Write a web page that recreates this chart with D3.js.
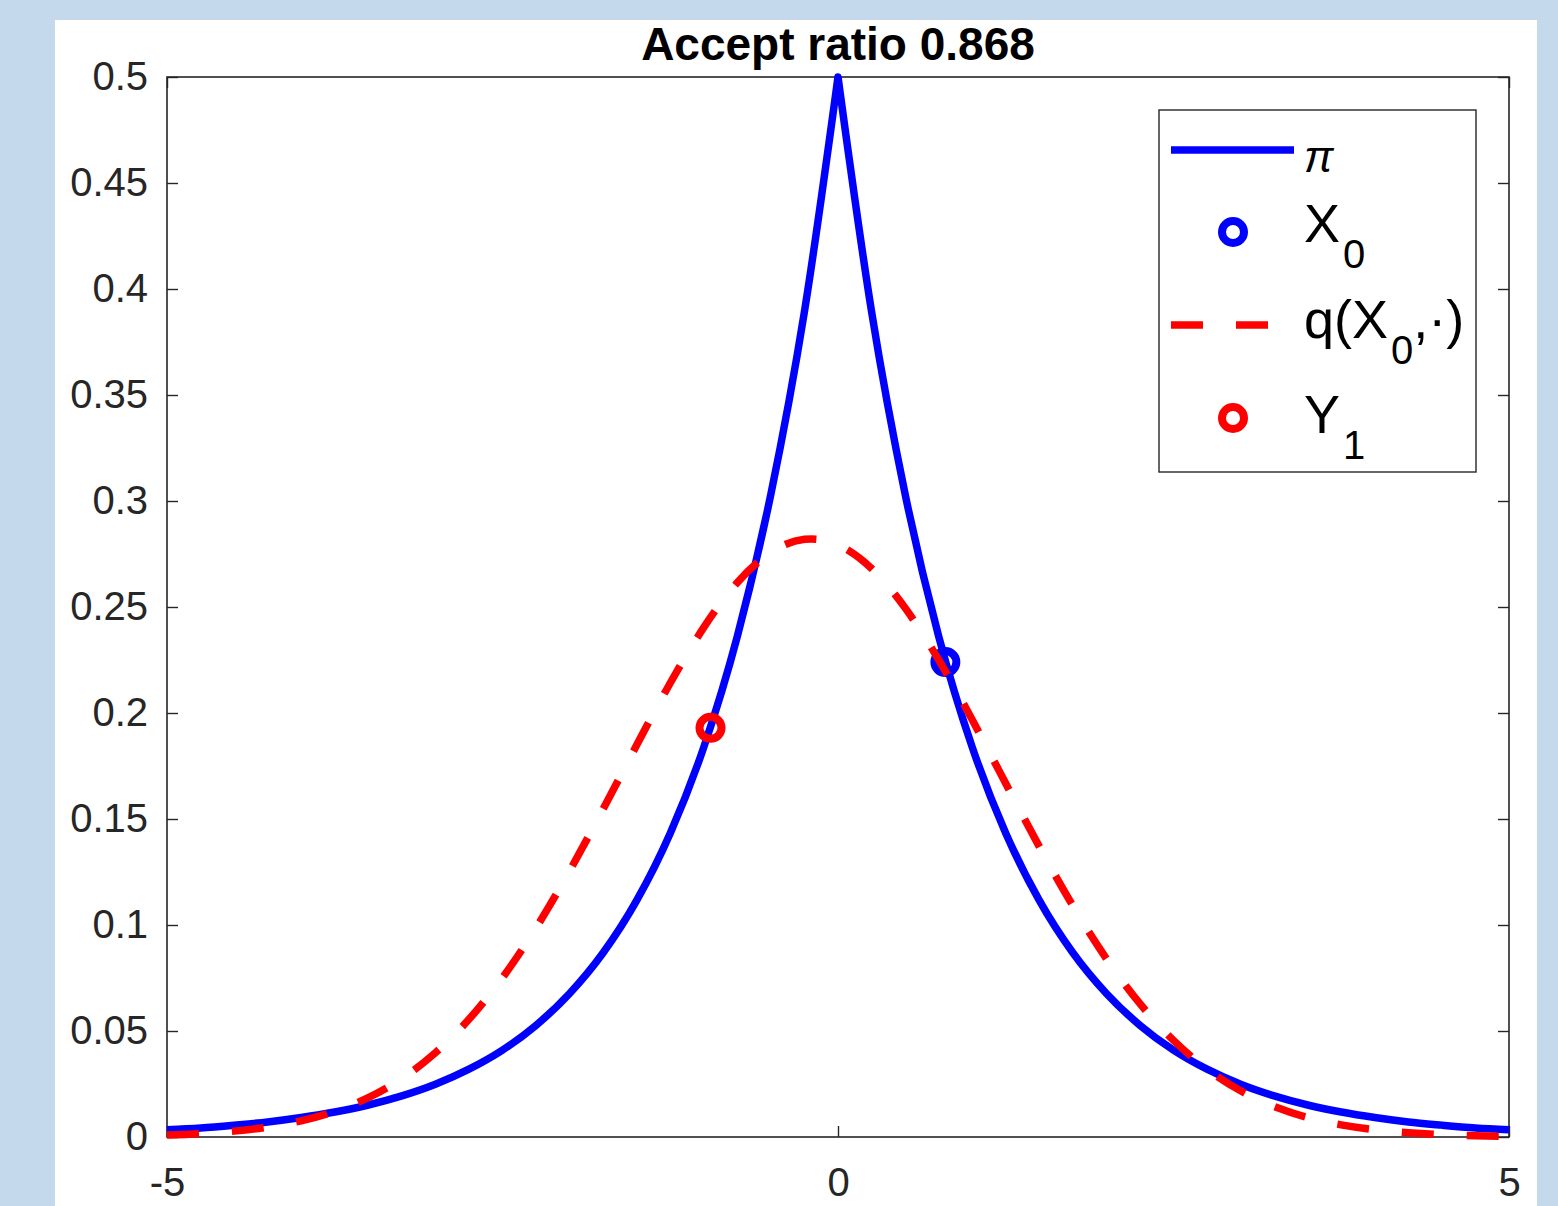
<!DOCTYPE html>
<html>
<head>
<meta charset="utf-8">
<script src="https://cdn.jsdelivr.net/npm/d3@7"></script>
<style>
  html, body { margin: 0; padding: 0; background: #c4d9ec; }
  svg { display: block; }
  text { font-family: "Liberation Sans", Arial, Helvetica, sans-serif; }
</style>
</head>
<body>
<svg id="chart" width="1558" height="1206"></svg>
<script>
// ---- data ----
const xGrid = [-5, -4.75, -4.5, -4.25, -4, -3.75, -3.5, -3.25, -3, -2.75, -2.5, -2.25, -2, -1.75, -1.5, -1.25, -1, -0.75, -0.5, -0.25,
  0, 0.25, 0.5, 0.75, 1, 1.25, 1.5, 1.75, 2, 2.25, 2.5, 2.75, 3, 3.25, 3.5, 3.75, 4, 4.25, 4.5, 4.75, 5];
const piValues = [0.0034, 0.0043, 0.0056, 0.0071, 0.0092, 0.0118, 0.0151, 0.0194, 0.0249, 0.0320, 0.0410, 0.0527, 0.0677, 0.0869, 0.1116, 0.1433, 0.1839, 0.2362, 0.3033, 0.3894,
  0.5, 0.3894, 0.3033, 0.2362, 0.1839, 0.1433, 0.1116, 0.0869, 0.0677, 0.0527, 0.0410, 0.0320, 0.0249, 0.0194, 0.0151, 0.0118, 0.0092, 0.0071, 0.0056, 0.0043, 0.0034];
const qValues = [0.00089, 0.00160, 0.00277, 0.00467, 0.00763, 0.01208, 0.01853, 0.02756, 0.03974, 0.05552, 0.07517, 0.09866, 0.12549, 0.15472, 0.18488, 0.21415, 0.24038, 0.26155, 0.27581, 0.28191,
  0.27928, 0.26817, 0.24957, 0.22512, 0.19681, 0.16677, 0.13697, 0.10903, 0.08412, 0.06290, 0.04559, 0.03203, 0.02181, 0.01439, 0.00920, 0.00571, 0.00343, 0.00200, 0.00113, 0.00062, 0.00033];
const x0Point = [0.8, 0.224];
const y1Point = [-0.95, 0.193];
const xTicks = [-5, 0, 5];
const xTickLabels = ["-5", "0", "5"];
const yTicks = [0, 0.05, 0.1, 0.15, 0.2, 0.25, 0.3, 0.35, 0.4, 0.45, 0.5];
const yTickLabels = ["0", "0.05", "0.1", "0.15", "0.2", "0.25", "0.3", "0.35", "0.4", "0.45", "0.5"];
const titleText = "Accept ratio 0.868";

// ---- layout ----
const svg = d3.select("#chart");
const axisColor = "#262626";
const BLUE = "#0000ff", RED = "#ff0000";

svg.append("rect").attr("x", 55).attr("y", 20).attr("width", 1482).attr("height", 1186).attr("fill", "#ffffff");

const x = d3.scaleLinear().domain([-5, 5]).range([167, 1509]);
const y = d3.scaleLinear().domain([0, 0.5]).range([1137, 77]);

// axes
const gL = svg.append("g").attr("transform", `translate(${x.range()[0]},0)`)
  .call(d3.axisLeft(y).tickValues(yTicks).tickFormat((d, i) => yTickLabels[i]).tickSizeInner(-11).tickSizeOuter(0).tickPadding(19));
const gR = svg.append("g").attr("transform", `translate(${x.range()[1]},0)`)
  .call(d3.axisRight(y).tickValues(yTicks).tickFormat("").tickSizeInner(-11).tickSizeOuter(0));
const gB = svg.append("g").attr("transform", `translate(0,${y.range()[0]})`)
  .call(d3.axisBottom(x).tickValues(xTicks).tickFormat((d, i) => xTickLabels[i]).tickSizeInner(-11).tickSizeOuter(0).tickPadding(31));
const gT = svg.append("g").attr("transform", `translate(0,${y.range()[1]})`)
  .call(d3.axisTop(x).tickValues(xTicks).tickFormat("").tickSizeInner(-11).tickSizeOuter(0));
[gL, gR, gB, gT].forEach(g => {
  g.select(".domain").remove();
  g.selectAll(".tick line").attr("stroke", axisColor).attr("stroke-width", 1.4);
  g.selectAll(".tick text").attr("fill", axisColor).attr("font-size", 40)
    .attr("font-family", '"Liberation Sans", Arial, sans-serif');
});
svg.append("rect").attr("x", x.range()[0]).attr("y", y.range()[1])
  .attr("width", x.range()[1] - x.range()[0]).attr("height", y.range()[0] - y.range()[1])
  .attr("fill", "none").attr("stroke", axisColor).attr("stroke-width", 1.6);

// title
svg.append("text").attr("x", (x.range()[0] + x.range()[1]) / 2).attr("y", 60)
  .attr("text-anchor", "middle").attr("font-weight", "bold").attr("font-size", 46)
  .attr("fill", "#000").text(titleText);

const plot = svg.append("g");

// pi curve (two monotone halves joined at the cusp)
const piPts = xGrid.map((v, i) => [v, piValues[i]]);
const lineMono = d3.line().x(d => x(d[0])).y(d => y(d[1])).curve(d3.curveMonotoneX);
const dLeft = lineMono(piPts.filter(d => d[0] <= 0));
const dRight = lineMono(piPts.filter(d => d[0] >= 0));
const dPi = dLeft + dRight.replace(/^M[^A-Za-z]*/, "");
plot.append("path").attr("d", dPi).attr("fill", "none").attr("stroke", BLUE)
  .attr("stroke-width", 7.5).attr("stroke-linejoin", "round");

// X0 marker
plot.append("circle").attr("cx", x(x0Point[0])).attr("cy", y(x0Point[1])).attr("r", 11)
  .attr("fill", "none").attr("stroke", BLUE).attr("stroke-width", 8);

// q curve
const qPts = xGrid.map((v, i) => [v, qValues[i]]);
const lineNat = d3.line().x(d => x(d[0])).y(d => y(d[1])).curve(d3.curveNatural);
plot.append("path").attr("d", lineNat(qPts)).attr("fill", "none").attr("stroke", RED)
  .attr("stroke-width", 7.5).attr("stroke-dasharray", "32,33").attr("stroke-linecap", "butt");

// Y1 marker
plot.append("circle").attr("cx", x(y1Point[0])).attr("cy", y(y1Point[1])).attr("r", 11)
  .attr("fill", "none").attr("stroke", RED).attr("stroke-width", 8);

// legend
const lg = svg.append("g");
lg.append("rect").attr("x", 1159).attr("y", 110).attr("width", 317).attr("height", 362)
  .attr("fill", "#fff").attr("stroke", axisColor).attr("stroke-width", 1.4);
const lx1 = 1171, lx2 = 1294, lmx = 1233, ltx = 1304;
// row 1: pi
lg.append("line").attr("x1", lx1).attr("x2", lx2).attr("y1", 150).attr("y2", 150)
  .attr("stroke", BLUE).attr("stroke-width", 7.5);
lg.append("text").attr("x", ltx).attr("y", 172).attr("font-size", 44)
  .attr("font-style", "italic").attr("font-family", '"Liberation Serif", "DejaVu Serif", serif')
  .attr("fill", "#000").text("π");
// row 2: X0
lg.append("circle").attr("cx", lmx).attr("cy", 232).attr("r", 11)
  .attr("fill", "none").attr("stroke", BLUE).attr("stroke-width", 8);
const t2 = lg.append("text").attr("x", ltx).attr("y", 242).attr("font-size", 54).attr("fill", "#000");
t2.append("tspan").text("X");
t2.append("tspan").attr("dy", 26).attr("dx", 3).attr("font-size", 40).text("0");
// row 3: q
lg.append("line").attr("x1", lx1).attr("x2", lx2).attr("y1", 325).attr("y2", 325)
  .attr("stroke", RED).attr("stroke-width", 7.5).attr("stroke-dasharray", "32,33");
const t3 = lg.append("text").attr("x", ltx).attr("y", 338).attr("font-size", 54).attr("fill", "#000");
t3.append("tspan").text("q(X");
t3.append("tspan").attr("dy", 26).attr("dx", 3).attr("font-size", 40).text("0");
t3.append("tspan").attr("dy", -26).text(",·)");
// row 4: Y1
lg.append("circle").attr("cx", lmx).attr("cy", 418).attr("r", 11)
  .attr("fill", "none").attr("stroke", RED).attr("stroke-width", 8);
const t4 = lg.append("text").attr("x", ltx).attr("y", 433).attr("font-size", 54).attr("fill", "#000");
t4.append("tspan").text("Y");
t4.append("tspan").attr("dy", 26).attr("dx", 3).attr("font-size", 40).text("1");
</script>
</body>
</html>
